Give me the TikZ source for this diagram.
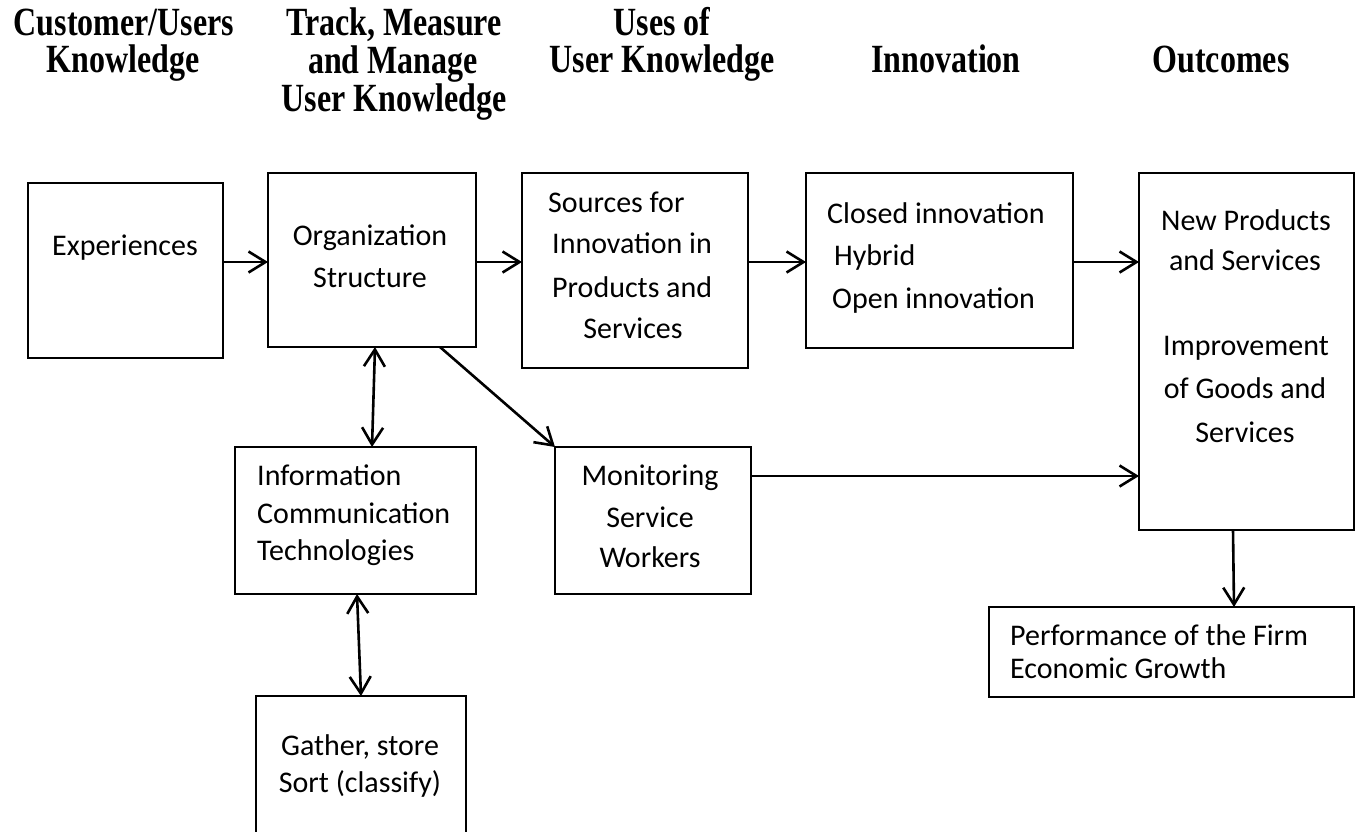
\documentclass[tikz,border=0pt]{standalone}
\usepackage{fontspec}
\setmainfont{Carlito}
\newfontfamily\headfont{Liberation Serif}
\usetikzlibrary{arrows.meta}
\newcommand{\hdtxt}[1]{\scalebox{0.8}[1]{\headfont\bfseries\fontsize{40}{40}\selectfont #1}}
\tikzset{
  box/.style={draw, line width=2.6pt, rectangle, anchor=north west, inner sep=0pt, outer sep=0pt},
  txt/.style={anchor=base, inner sep=0pt, font=\fontsize{30}{36}\selectfont},
  txtl/.style={txt, anchor=base west},
  head/.style={anchor=base, inner sep=0pt},
  tipb/.tip={Straight Barb[length=17pt,width=21pt,line width=2.6pt]},
  arr/.style={line width=2.6pt, -tipb},
  darr/.style={line width=2.6pt, tipb-tipb},
}
\begin{document}
\begin{tikzpicture}[x=1pt,y=-1pt]
\useasboundingbox (0,0) rectangle (1357,831);
\clip (0,0) rectangle (1357,831);
\fill[white] (0,0) rectangle (1357,831);
% headers
\node[head] (h1a) at (124,35) {\hdtxt{Customer/Users}};
\node[head] (h1b) at (123,72) {\hdtxt{Knowledge}};
\node[head] (h2a) at (394,35) {\hdtxt{Track, Measure}};
\node[head] (h2b) at (393,73) {\hdtxt{and Manage}};
\node[head] (h2c) at (394,111) {\hdtxt{User Knowledge}};
\node[head] (h3a) at (662,35) {\hdtxt{Uses of}};
\node[head] (h3b) at (662,72) {\hdtxt{User Knowledge}};
\node[head] (h4) at (946,72) {\hdtxt{Innovation}};
\node[head] (h5) at (1221,72) {\hdtxt{Outcomes}};
% boxes
\node[box, minimum width=195pt, minimum height=175pt] (exp) at (28,183) {};
\node[box, minimum width=208pt, minimum height=174pt] (org) at (268,173) {};
\node[box, minimum width=226pt, minimum height=195pt] (src) at (522,173) {};
\node[box, minimum width=267pt, minimum height=175pt] (inn) at (806,173) {};
\node[box, minimum width=215pt, minimum height=357pt] (out) at (1139,173) {};
\node[box, minimum width=241pt, minimum height=147pt] (ict) at (235,447) {};
\node[box, minimum width=196pt, minimum height=147pt] (mon) at (555,447) {};
\node[box, minimum width=210pt, minimum height=170pt] (gat) at (256,696) {};
\node[box, minimum width=365pt, minimum height=90pt] (perf) at (989,607) {};
% texts
\node[txt] (t1) at (125,255) {Experiences};
\node[txt] (t2a) at (370,245) {Organization};
\node[txt] (t2b) at (370,287) {Structure};
\node[txtl] (t3a) at (548,212) {Sources for};
\node[txtl] (t3b) at (552,253) {Innovation in};
\node[txtl] (t3c) at (552,297) {Products and};
\node[txt] (t3d) at (633,338) {Services};
\node[txtl] (t4a) at (827,223) {Closed innovation};
\node[txtl] (t4b) at (834,265) {Hybrid};
\node[txtl] (t4c) at (832,308) {Open innovation};
\node[txt] (t5a) at (1246,230) {New Products};
\node[txt] (t5b) at (1245,270) {and Services};
\node[txt] (t5c) at (1246,355) {Improvement};
\node[txt] (t5d) at (1245,398) {of Goods and};
\node[txt] (t5e) at (1245,442) {Services};
\node[txtl] (t6a) at (257,485) {Information};
\node[txtl] (t6b) at (257,523) {Communication};
\node[txtl] (t6c) at (257,560) {Technologies};
\node[txt] (t7a) at (650,485) {Monitoring};
\node[txt] (t7b) at (650,527) {Service};
\node[txt] (t7c) at (650,567) {Workers};
\node[txt] (t8a) at (360,755) {Gather, store};
\node[txt] (t8b) at (360,792) {Sort (classify)};
\node[txtl] (t9a) at (1010,645) {Performance of the Firm};
\node[txtl] (t9b) at (1010,678) {Economic Growth};
% connectors
\draw[arr] (exp.east |- 0,262) -- (org.west |- 0,262);
\draw[arr] (org.east |- 0,262) -- (src.west |- 0,262);
\draw[arr] (src.east |- 0,262) -- (inn.west |- 0,262);
\draw[arr] (inn.east |- 0,262) -- (out.west |- 0,262);
\draw[darr] (org.south -| 375,0) -- (ict.north -| 372,0);
\draw[arr] (org.south -| 440,0) -- (mon.north west);
\draw[arr] (mon.east |- 0,476) -- (out.west |- 0,476);
\draw[darr] (ict.south -| 357,0) -- (gat.north -| 361,0);
\draw[arr] (out.south -| 1233,0) -- (perf.north -| 1234,0);
\end{tikzpicture}
\end{document}
